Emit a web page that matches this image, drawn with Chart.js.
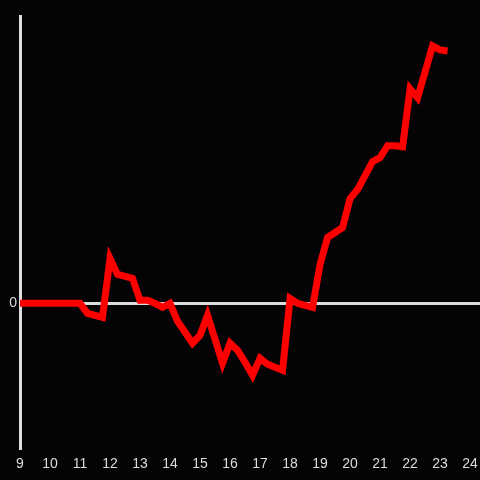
<!DOCTYPE html>
<html>
<head>
<meta charset="utf-8">
<script src="https://cdn.jsdelivr.net/npm/chart.js@4"></script>
<style>
  body { margin: 0; background: #040306; }
</style>
</head>
<body>
<canvas id="myChart" width="480" height="480"></canvas>
<script>
const ctx = document.getElementById('myChart');

// hours of the day, 15 minute steps
const horas = [
  9, 9.25, 9.5, 9.75, 10, 10.25, 10.5, 10.75, 11, 11.25, 11.5, 11.75,
  12, 12.25, 12.5, 12.75, 13, 13.25, 13.5, 13.75, 14, 14.25, 14.5, 14.75,
  15, 15.25, 15.5, 15.75, 16, 16.25, 16.5, 16.75, 17, 17.25, 17.5, 17.75,
  18, 18.25, 18.5, 18.75, 19, 19.25, 19.5, 19.75, 20, 20.25, 20.5, 20.75,
  21, 21.25, 21.5, 21.75, 22, 22.25, 22.5, 22.75, 23, 23.25
]
const valores = [
  0, 0, 0, 0, 0, 0, 0, 0, 0, -1.0, -1.2, -1.4,
  4.5, 2.9, 2.7, 2.5, 0.3, 0.3, 0.0, -0.4, 0.0, -1.8, -2.9, -4.0,
  -3.2, -1.2, -3.6, -6.0, -4.0, -4.7, -5.9, -7.2, -5.5, -6.1, -6.4, -6.7,
  0.5, 0.0, -0.2, -0.4, 3.9, 6.6, 7.1, 7.6, 10.5, 11.4, 12.8, 14.2,
  14.6, 15.8, 15.8, 15.7, 21.5, 20.6, 23.2, 25.8, 25.4, 25.3
]
const ticksX = [9, 10, 11, 12, 13, 14, 15, 16, 17, 18, 19, 20, 21, 22, 23, 24]
const ticksY = [0]

const puntos = horas.map((h, i) => ({ x: h, y: valores[i] }))

new Chart(ctx, {
  type: 'line',
  data: {
    datasets: [{
      data: puntos,
      borderColor: '#ff0000',
      borderWidth: 7,
      pointRadius: 0,
      tension: 0
    }]
  },
  options: {
    responsive: false,
    animation: false,
    layout: { padding: { top: 16, right: 0, left: 0, bottom: 0 } },
    plugins: { legend: { display: false }, tooltip: { enabled: false } },
    scales: {
      x: {
        type: 'linear',
        min: 9,
        max: 24.33,
        afterBuildTicks: (s) => { s.ticks = ticksX.map(v => ({ value: v })) },
        afterFit: (s) => { s.height = 32 },
        grid: { display: false },
        border: { display: false },
        ticks: { color: '#dddddd', font: { size: 14, family: 'Liberation Sans' }, padding: 0 }
      },
      y: {
        min: -14.5,
        max: 28.8,
        afterBuildTicks: (s) => { s.ticks = ticksY.map(v => ({ value: v })) },
        afterFit: (s) => { s.width = 20 },
        grid: { color: '#dddddd', lineWidth: 3, drawTicks: false },
        border: { display: true, color: '#dddddd', width: 3 },
        ticks: { color: '#dddddd', font: { size: 14, family: 'Liberation Sans' }, padding: 3 }
      }
    }
  }
});
</script>
</body>
</html>
